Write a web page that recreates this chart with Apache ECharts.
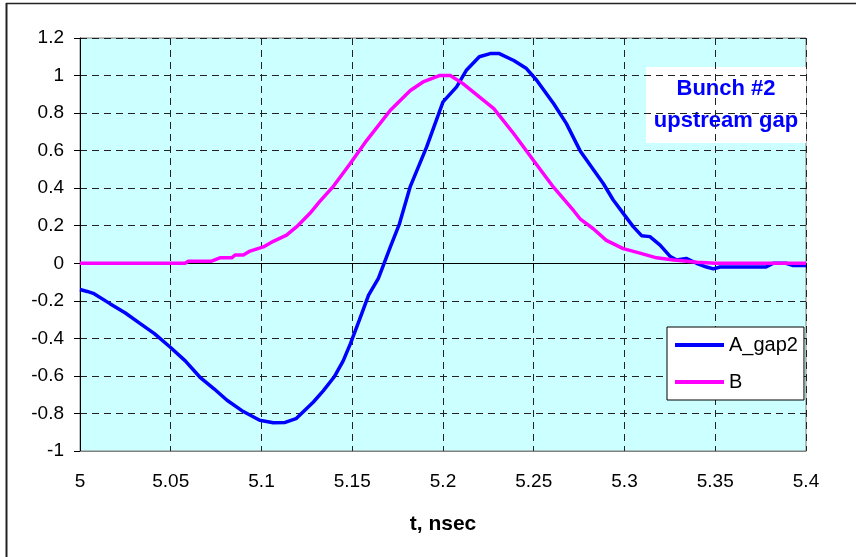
<!DOCTYPE html>
<html>
<head>
<meta charset="utf-8">
<script src="https://cdn.jsdelivr.net/npm/echarts@6/dist/echarts.min.js"></script>
<style>
  html, body { margin: 0; padding: 0; background: #fff; }
  #chart { width: 856px; height: 557px; }
</style>
</head>
<body>
<div id="chart"></div>
<script>
// A_gap2 (blue) - time in nsec and amplitude
var aTime = [5.000, 5.004, 5.0073, 5.0165, 5.025, 5.033, 5.041, 5.0496, 5.058, 5.066, 5.074, 5.081, 5.090, 5.099,
  5.1065, 5.113, 5.119, 5.1286, 5.134, 5.140, 5.145, 5.149, 5.154, 5.159, 5.1644, 5.171, 5.176, 5.182, 5.191,
  5.200, 5.2075, 5.213, 5.220, 5.226, 5.231, 5.239, 5.246, 5.2516, 5.261, 5.268, 5.2755, 5.2828, 5.2883, 5.2938,
  5.2993, 5.3048, 5.3094, 5.314, 5.3196, 5.325, 5.3287, 5.334, 5.3397, 5.3452, 5.349, 5.3526, 5.3636, 5.378,
  5.382, 5.389, 5.393, 5.400]
var aValue = [-0.140, -0.150, -0.160, -0.215, -0.265, -0.320, -0.375, -0.446, -0.520, -0.606, -0.670, -0.730, -0.790, -0.836,
  -0.849, -0.848, -0.828, -0.739, -0.680, -0.606, -0.520, -0.428, -0.300, -0.170, -0.080, 0.087, 0.210, 0.410, 0.620,
  0.860, 0.940, 1.030, 1.100, 1.117, 1.117, 1.080, 1.037, 0.975, 0.850, 0.744, 0.600, 0.500, 0.425, 0.337,
  0.266, 0.195, 0.147, 0.142, 0.097, 0.038, 0.017, 0.026, 0.000, -0.020, -0.030, -0.020, -0.020, -0.020,
  0.000, 0.000, -0.012, -0.012]

// B (magenta)
var bTime = [5.000, 5.0579, 5.0597, 5.0725, 5.0771, 5.0836, 5.0854, 5.090, 5.0937, 5.101, 5.1065, 5.1138, 5.1194,
  5.1267, 5.132, 5.1396, 5.1488, 5.158, 5.171, 5.182, 5.189, 5.198, 5.204, 5.211, 5.220, 5.228, 5.239, 5.250,
  5.261, 5.272, 5.2755, 5.2828, 5.290, 5.2993, 5.3085, 5.3177, 5.327, 5.340, 5.350, 5.400]
var bValue = [0, 0, 0.011, 0.011, 0.029, 0.029, 0.044, 0.044, 0.065, 0.087, 0.117, 0.150, 0.195,
  0.266, 0.328, 0.410, 0.530, 0.655, 0.815, 0.920, 0.966, 1.000, 1.000, 0.957, 0.886, 0.824, 0.690, 0.546,
  0.404, 0.280, 0.237, 0.184, 0.122, 0.078, 0.054, 0.029, 0.018, 0.006, 0, 0]

var seriesNames = ['A_gap2', 'B']
var xTitle = 't, nsec'
var boxLines = ['Bunch #2', 'upstream gap']

function pairs(xs, ys) {
  var out = []
  for (var i = 0; i < xs.length; i++) {
    out.push([xs[i], ys[i]])
  }
  return out
}

var myChart = echarts.init(document.getElementById('chart'))
var font = 'Arial, "Liberation Sans", sans-serif'

var option = {
  animation: false,
  textStyle: { fontFamily: font },
  grid: {
    left: 80,
    top: 38,
    right: 50,
    bottom: 106,
    show: true,
    backgroundColor: '#ccffff',
    borderColor: '#808080',
    borderWidth: 1
  },
  legend: {
    data: seriesNames,
    orient: 'vertical',
    left: 667,
    top: 327,
    padding: [8, 6, 8, 6],
    itemGap: 17,
    itemWidth: 49,
    itemHeight: 20,
    itemTextGap: 5,
    itemStyle: { opacity: 0 }, // line only, no marker
    lineStyle: { width: 4 },
    backgroundColor: '#ffffff',
    borderColor: '#000000',
    borderWidth: 1,
    borderRadius: 0,
    textStyle: { fontSize: 20, color: '#000', fontFamily: font }
  },
  xAxis: [
    {
      type: 'value',
      min: 5,
      max: 5.4,
      interval: 0.05,
      name: xTitle,
      nameLocation: 'middle',
      nameGap: 63,
      nameTextStyle: { fontSize: 21, fontWeight: 'bold', color: '#000' },
      axisLine: { onZero: false, lineStyle: { color: '#808080', width: 1 } },
      axisTick: { show: false },
      axisLabel: {
        margin: 21,
        fontSize: 19,
        color: '#000',
        formatter: function(v) { return String(Math.round(v * 100) / 100) }
      },
      splitLine: {
        show: true,
        lineStyle: { color: '#222', type: [7, 5], width: 1 }
      }
    },
    {
      // solid axis line through zero, ticks hanging below it
      type: 'value',
      min: 5,
      max: 5.4,
      interval: 0.05,
      position: 'top',
      axisLine: { onZero: true, lineStyle: { color: '#000', width: 1 } },
      axisTick: { show: true, inside: true, length: 5, lineStyle: { color: '#000' } },
      axisLabel: { show: false },
      splitLine: { show: false }
    }
  ],
  yAxis: {
    type: 'value',
    min: -1,
    max: 1.2,
    interval: 0.2,
    axisLine: { show: true, lineStyle: { color: '#000', width: 1 } },
    axisTick: { show: true, length: 6, lineStyle: { color: '#000' } },
    axisLabel: {
      margin: 16,
      fontSize: 19,
      color: '#000',
      formatter: function(v) { return String(Math.round(v * 10) / 10) }
    },
    splitLine: {
      show: true,
      lineStyle: { color: '#222', type: [7, 5], width: 1 }
    }
  },
  series: [
    {
      name: seriesNames[0],
      type: 'line',
      data: pairs(aTime, aValue),
      showSymbol: false,
      symbol: 'none',
      smooth: false,
      lineStyle: { color: '#0000ff', width: 3.5 },
      itemStyle: { color: '#0000ff' },
      z: 3
    },
    {
      name: seriesNames[1],
      type: 'line',
      data: pairs(bTime, bValue),
      showSymbol: false,
      symbol: 'none',
      smooth: false,
      lineStyle: { color: '#ff00ff', width: 3.5 },
      itemStyle: { color: '#ff00ff' },
      z: 4
    }
  ],
  graphic: [
    // outer frame (top and left edges only)
    { type: 'line', shape: { x1: 6, y1: 3.5, x2: 856, y2: 3.5 }, style: { stroke: '#222', lineWidth: 1.5 } },
    { type: 'line', shape: { x1: 6.5, y1: 3, x2: 6.5, y2: 557 }, style: { stroke: '#222', lineWidth: 2 } },
    // annotation box
    {
      type: 'group',
      left: 646,
      top: 67,
      z: 100,
      children: [
        { type: 'rect', shape: { x: 0, y: 0, width: 160, height: 76 }, style: { fill: '#ffffff' } },
        {
          type: 'text',
          x: 80,
          y: 38,
          style: {
            text: boxLines.join('\n'),
            fill: '#0000ff',
            font: 'bold 22px ' + font,
            lineHeight: 32,
            align: 'center',
            verticalAlign: 'middle'
          }
        }
      ]
    }
  ]
}

myChart.setOption(option)
</script>
</body>
</html>
